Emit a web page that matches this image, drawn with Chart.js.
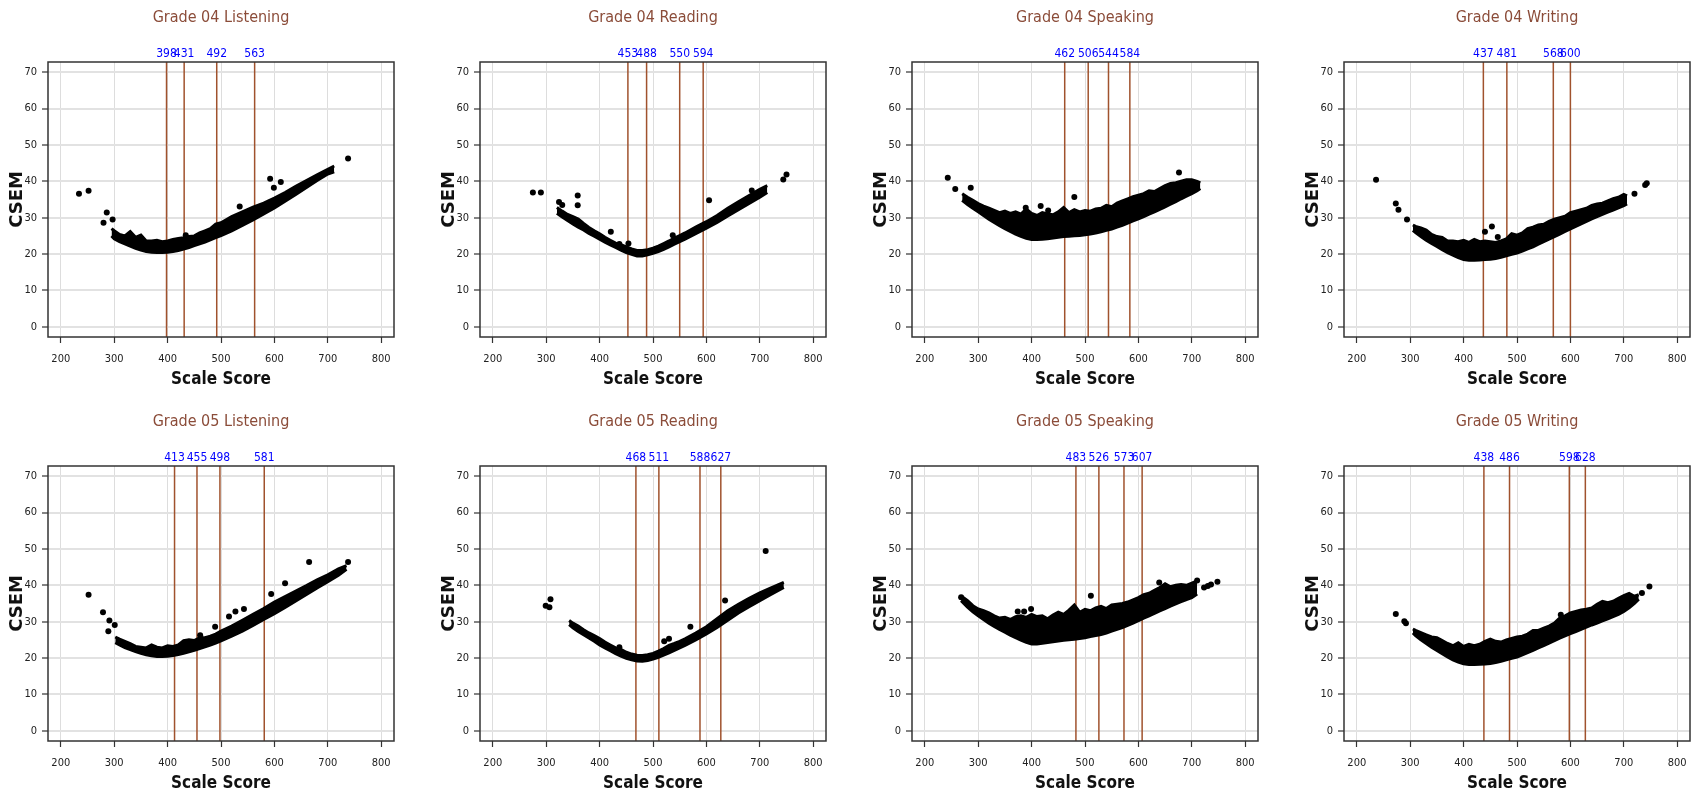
<!DOCTYPE html>
<html>
<head>
<meta charset="utf-8">
<title>CSEM by Scale Score</title>
<script src="https://cdn.jsdelivr.net/npm/chart.js@4.4.1/dist/chart.umd.min.js"></script>
<style>
  html, body { margin: 0; padding: 0; background: #fff; overflow: hidden; }
  #wrap { position: relative; width: 1697px; height: 801px; }
  #wrap canvas { position: absolute; }
</style>
</head>
<body>
<div id="wrap"></div>
<script>
// tick labels shared by every panel
const xTicks = [200, 300, 400, 500, 600, 700, 800];
const yTicks = [0, 10, 20, 30, 40, 50, 60, 70];

// ── Grade 04 Listening ──
const g4LisX  = [295, 300, 310, 320, 330, 340, 350, 360, 370, 380, 390, 400, 410, 420, 430, 440, 450, 460, 470, 480, 490, 500, 520, 540, 560, 580, 600, 620, 640, 660, 680, 700, 712];
const g4LisLo = [25.0, 24.2, 23.4, 22.8, 22.2, 21.6, 21.1, 20.7, 20.5, 20.4, 20.4, 20.5, 20.7, 21.0, 21.4, 21.8, 22.3, 22.8, 23.3, 23.9, 24.5, 25.1, 26.4, 27.9, 29.4, 31.0, 32.7, 34.5, 36.4, 38.3, 40.2, 42.0, 42.6];
const g4LisHi = [27.0, 26.4, 25.4, 25.0, 26.2, 24.6, 25.2, 23.6, 23.6, 23.8, 23.4, 23.6, 24.0, 24.3, 24.5, 24.8, 25.0, 25.8, 26.4, 27.0, 28.2, 28.6, 30.3, 31.6, 32.9, 34.0, 35.4, 36.9, 38.6, 40.2, 41.8, 43.3, 44.2];
const g4LisOut = [[234, 36.6], [252, 37.4], [280, 28.6], [286, 31.4], [297, 29.5], [434, 25.2], [535, 33.1], [592, 40.7], [599, 38.2], [612, 39.8], [738, 46.3]];
const g4LisCuts = [398, 431, 492, 563];

// ── Grade 04 Reading ──
const g4ReaX  = [320, 330, 340, 350, 360, 370, 380, 390, 400, 410, 420, 430, 440, 450, 460, 470, 480, 490, 500, 510, 520, 530, 540, 550, 560, 580, 600, 620, 640, 660, 680, 700, 714];
const g4ReaLo = [31.2, 30.2, 29.2, 28.3, 27.4, 26.6, 25.7, 24.9, 24.1, 23.3, 22.5, 21.8, 21.1, 20.4, 19.9, 19.5, 19.5, 19.8, 20.2, 20.7, 21.3, 22.0, 22.7, 23.4, 24.1, 25.6, 27.1, 28.7, 30.5, 32.2, 33.9, 35.6, 36.9];
const g4ReaHi = [32.8, 31.8, 30.9, 30.3, 29.6, 28.4, 27.3, 26.4, 25.6, 24.6, 23.8, 23.0, 22.6, 22.0, 21.4, 21.0, 21.0, 21.2, 21.6, 22.2, 22.9, 23.6, 24.4, 25.1, 25.8, 27.4, 28.9, 30.6, 32.6, 34.4, 36.1, 37.8, 38.8];
const g4ReaOut = [[275, 36.9], [290, 36.9], [324, 34.3], [330, 33.5], [359, 36.1], [359, 33.4], [421, 26.1], [437, 22.8], [454, 22.9], [537, 25.2], [605, 34.8], [685, 37.5], [744, 40.5], [750, 41.9]];
const g4ReaCuts = [453, 488, 550, 594];

// ── Grade 04 Speaking ──
const g4SpkX  = [270, 280, 290, 300, 310, 320, 330, 340, 350, 360, 370, 380, 390, 400, 410, 420, 430, 440, 450, 460, 470, 480, 490, 500, 510, 520, 530, 540, 550, 560, 570, 580, 590, 600, 610, 620, 630, 640, 650, 660, 670, 680, 690, 700, 710, 716];
const g4SpkLo = [34.8, 33.6, 32.6, 31.6, 30.6, 29.6, 28.7, 27.8, 27.0, 26.2, 25.5, 24.9, 24.3, 24.0, 24.0, 24.1, 24.2, 24.4, 24.6, 24.8, 24.9, 25.0, 25.1, 25.3, 25.5, 25.8, 26.1, 26.5, 26.9, 27.4, 27.9, 28.5, 29.1, 29.7, 30.3, 31.0, 31.6, 32.3, 33.0, 33.7, 34.4, 35.2, 35.9, 36.6, 37.4, 38.0];
const g4SpkHi = [36.6, 35.6, 34.8, 33.9, 33.2, 32.6, 32.0, 31.4, 31.8, 31.2, 31.6, 31.0, 32.4, 31.2, 30.6, 31.4, 31.0, 30.8, 31.6, 32.8, 31.4, 32.2, 31.6, 32.0, 31.8, 32.4, 32.6, 33.4, 33.0, 34.0, 34.6, 35.2, 35.8, 36.2, 36.6, 37.4, 37.2, 38.0, 38.8, 39.4, 39.6, 40.0, 40.4, 40.4, 40.0, 39.6];
const g4SpkOut = [[243, 41.0], [257, 37.9], [286, 38.2], [389, 32.7], [417, 33.2], [431, 32.0], [480, 35.7], [676, 42.4]];
const g4SpkCuts = [462, 506, 544, 584];

// ── Grade 04 Writing ──
const g4WriX  = [305, 310, 320, 330, 340, 350, 360, 370, 380, 390, 400, 410, 420, 430, 440, 450, 460, 470, 480, 490, 500, 510, 520, 530, 540, 550, 560, 570, 580, 590, 600, 610, 620, 630, 640, 650, 660, 670, 680, 690, 700, 706];
const g4WriLo = [26.5, 25.9, 24.8, 23.8, 22.9, 22.1, 21.2, 20.4, 19.7, 19.0, 18.5, 18.3, 18.3, 18.4, 18.5, 18.6, 18.8, 19.1, 19.5, 19.9, 20.3, 20.8, 21.4, 22.0, 22.7, 23.4, 24.1, 24.8, 25.5, 26.2, 26.9, 27.6, 28.3, 29.0, 29.7, 30.3, 30.9, 31.5, 32.1, 32.7, 33.3, 33.8];
const g4WriHi = [28.0, 27.6, 27.2, 26.6, 25.4, 24.8, 24.6, 23.6, 23.6, 23.4, 23.8, 23.2, 24.0, 23.4, 23.6, 23.4, 23.2, 23.6, 24.2, 25.6, 25.2, 25.8, 27.0, 27.4, 28.0, 28.2, 29.0, 29.6, 30.0, 30.4, 31.4, 31.8, 32.2, 32.6, 33.4, 33.8, 34.0, 34.6, 35.2, 35.6, 36.4, 36.0];
const g4WriOut = [[236, 40.4], [273, 33.9], [278, 32.2], [294, 29.5], [440, 26.1], [453, 27.6], [464, 24.7], [720, 36.6], [740, 39.0], [743, 39.5]];
const g4WriCuts = [437, 481, 568, 600];

// ── Grade 05 Listening ──
const g5LisX  = [302, 310, 320, 330, 340, 350, 360, 370, 380, 390, 400, 410, 420, 430, 440, 450, 460, 470, 480, 490, 500, 520, 540, 560, 580, 600, 620, 640, 660, 680, 700, 720, 735];
const g5LisLo = [24.2, 23.6, 22.9, 22.3, 21.8, 21.3, 20.9, 20.6, 20.4, 20.4, 20.5, 20.7, 21.0, 21.3, 21.7, 22.1, 22.6, 23.1, 23.6, 24.1, 24.7, 26.0, 27.4, 29.0, 30.6, 32.2, 33.9, 35.7, 37.5, 39.3, 41.0, 42.8, 44.4];
const g5LisHi = [25.8, 25.2, 24.6, 24.0, 23.2, 23.0, 22.8, 23.6, 23.0, 22.8, 23.4, 23.2, 23.6, 24.8, 25.0, 24.8, 25.6, 25.6, 26.0, 26.6, 27.4, 28.8, 30.4, 32.0, 33.6, 35.4, 36.9, 38.4, 39.9, 41.5, 42.9, 44.5, 45.4];
const g5LisOut = [[252, 37.4], [279, 32.6], [289, 27.4], [291, 30.3], [301, 29.1], [461, 26.3], [489, 28.6], [515, 31.4], [527, 32.8], [543, 33.5], [594, 37.6], [620, 40.6], [665, 46.4], [738, 46.4]];
const g5LisCuts = [413, 455, 498, 581];

// ── Grade 05 Reading ──
const g5ReaX  = [343, 350, 360, 370, 380, 390, 400, 410, 420, 430, 440, 450, 460, 470, 480, 490, 500, 510, 520, 530, 540, 550, 560, 580, 600, 620, 640, 660, 680, 700, 720, 745];
const g5ReaLo = [29.2, 28.3, 27.3, 26.4, 25.5, 24.6, 23.6, 22.8, 22.0, 21.2, 20.5, 19.9, 19.5, 19.2, 19.1, 19.3, 19.7, 20.2, 20.8, 21.4, 22.1, 22.8, 23.5, 25.0, 26.6, 28.4, 30.4, 32.4, 34.1, 35.8, 37.4, 39.4];
const g5ReaHi = [30.3, 29.6, 28.8, 27.8, 26.9, 26.2, 25.4, 24.4, 23.6, 22.8, 22.4, 21.6, 21.1, 20.8, 20.7, 20.9, 21.3, 21.9, 22.6, 23.5, 24.0, 24.6, 25.3, 26.9, 28.6, 30.8, 33.0, 34.8, 36.4, 37.9, 39.2, 40.8];
const g5ReaOut = [[299, 34.4], [306, 34.0], [308, 36.2], [437, 23.0], [521, 24.6], [530, 25.3], [570, 28.6], [635, 35.8], [711, 49.4]];
const g5ReaCuts = [468, 511, 588, 627];

// ── Grade 05 Speaking ──
const g5SpkX  = [268, 280, 290, 300, 310, 320, 330, 340, 350, 360, 370, 380, 390, 400, 410, 420, 430, 440, 450, 460, 470, 480, 490, 500, 510, 520, 530, 540, 550, 560, 570, 580, 590, 600, 610, 620, 630, 640, 650, 660, 670, 680, 690, 700, 710];
const g5SpkLo = [35.8, 34.0, 32.7, 31.6, 30.6, 29.6, 28.7, 27.9, 27.1, 26.3, 25.6, 24.9, 24.3, 23.9, 23.9, 24.1, 24.3, 24.5, 24.7, 24.9, 25.0, 25.2, 25.4, 25.6, 25.9, 26.2, 26.5, 26.9, 27.4, 27.9, 28.4, 29.0, 29.6, 30.3, 31.0, 31.6, 32.3, 33.0, 33.6, 34.3, 34.9, 35.5, 36.1, 36.6, 37.6];
const g5SpkHi = [37.1, 35.8, 34.4, 33.5, 33.0, 32.4, 31.6, 31.0, 31.2, 30.6, 31.4, 31.6, 31.2, 32.0, 31.4, 31.6, 30.8, 31.8, 32.6, 32.0, 33.2, 34.6, 32.6, 33.4, 33.0, 33.8, 34.2, 33.6, 34.6, 34.8, 35.0, 35.4, 36.0, 36.6, 37.4, 37.8, 38.6, 39.4, 40.4, 39.6, 40.0, 40.2, 40.0, 40.6, 41.2];
const g5SpkOut = [[268, 36.7], [374, 32.8], [386, 32.8], [399, 33.5], [511, 37.1], [639, 40.8], [710, 41.3], [723, 39.4], [730, 39.8], [736, 40.2], [748, 41.0]];
const g5SpkCuts = [483, 526, 573, 607];

// ── Grade 05 Writing ──
const g5WriX  = [305, 310, 320, 330, 340, 350, 360, 370, 380, 390, 400, 410, 420, 430, 440, 450, 460, 470, 480, 490, 500, 510, 520, 530, 540, 550, 560, 570, 580, 590, 600, 610, 620, 630, 640, 650, 660, 670, 680, 690, 700, 710, 720, 728];
const g5WriLo = [26.9, 26.2, 25.0, 24.0, 23.0, 22.1, 21.2, 20.3, 19.5, 18.9, 18.4, 18.2, 18.2, 18.3, 18.4, 18.5, 18.8, 19.1, 19.5, 19.9, 20.3, 20.9, 21.5, 22.1, 22.8, 23.4, 24.1, 24.8, 25.5, 26.1, 26.7, 27.3, 27.9, 28.5, 29.1, 29.6, 30.2, 30.8, 31.4, 32.0, 32.8, 33.8, 35.0, 36.2];
const g5WriHi = [28.0, 27.6, 27.0, 26.4, 25.8, 25.6, 24.8, 24.0, 23.4, 24.2, 23.2, 23.8, 23.4, 23.8, 24.6, 25.2, 24.6, 24.4, 25.0, 25.4, 25.8, 26.0, 26.6, 27.6, 27.6, 28.2, 28.8, 29.6, 31.0, 31.6, 32.4, 32.8, 33.2, 33.4, 33.8, 34.8, 35.6, 35.2, 35.6, 36.4, 37.2, 37.8, 37.0, 37.4];
const g5WriOut = [[273, 32.1], [289, 30.1], [292, 29.6], [582, 31.9], [734, 37.9], [748, 39.7]];
const g5WriCuts = [438, 486, 598, 628];

// panel list (built from the arrays above)
const panels = [
    { title: 'Grade 04 Listening', bx: g4LisX, lo: g4LisLo, hi: g4LisHi, out: g4LisOut, cuts: g4LisCuts },
    { title: 'Grade 04 Reading',   bx: g4ReaX, lo: g4ReaLo, hi: g4ReaHi, out: g4ReaOut, cuts: g4ReaCuts },
    { title: 'Grade 04 Speaking',  bx: g4SpkX, lo: g4SpkLo, hi: g4SpkHi, out: g4SpkOut, cuts: g4SpkCuts },
    { title: 'Grade 04 Writing',   bx: g4WriX, lo: g4WriLo, hi: g4WriHi, out: g4WriOut, cuts: g4WriCuts },
    { title: 'Grade 05 Listening', bx: g5LisX, lo: g5LisLo, hi: g5LisHi, out: g5LisOut, cuts: g5LisCuts },
    { title: 'Grade 05 Reading',   bx: g5ReaX, lo: g5ReaLo, hi: g5ReaHi, out: g5ReaOut, cuts: g5ReaCuts },
    { title: 'Grade 05 Speaking',  bx: g5SpkX, lo: g5SpkLo, hi: g5SpkHi, out: g5SpkOut, cuts: g5SpkCuts },
    { title: 'Grade 05 Writing',   bx: g5WriX, lo: g5WriLo, hi: g5WriHi, out: g5WriOut, cuts: g5WriCuts }
];

// axis limits (R style: 4% padding around 200-800 and 0-70)
const X_MIN = 176, X_MAX = 824;
const Y_MIN = -2.8, Y_MAX = 72.8;

const NARROW = '"Liberation Sans Narrow", "DejaVu Sans Condensed", "Liberation Sans", sans-serif';

// draws the closed box around the plot area
const boxPlugin = {
    id: 'plotBox',
    afterDatasetsDraw(chart) {
        const a = chart.chartArea;
        const ctx = chart.ctx;
        ctx.save();
        ctx.strokeStyle = '#333333';
        ctx.lineWidth = 1.5;
        ctx.strokeRect(a.left, a.top, a.right - a.left, a.bottom - a.top);
        ctx.restore();
    }
};

// blue cut score labels above the plot box
const cutLabelPlugin = {
    id: 'cutLabels',
    afterDraw(chart, args, opts) {
        const ctx = chart.ctx;
        const xs = chart.scales.x;
        ctx.save();
        ctx.fillStyle = '#0000FF';
        ctx.font = '12px ' + NARROW;
        ctx.textAlign = 'center';
        ctx.textBaseline = 'bottom';
        (opts.values || []).forEach(v => {
            ctx.fillText(String(v), xs.getPixelForValue(v), chart.chartArea.top - 2);
        });
        ctx.restore();
    }
};

const wrap = document.getElementById('wrap');

panels.forEach((p, i) => {
    const col = i % 4;
    const row = Math.floor(i / 4);

    const canvas = document.createElement('canvas');
    canvas.width = 432;
    canvas.height = 400;
    canvas.style.width = '432px';
    canvas.style.height = '400px';
    canvas.style.left = (col * 432) + 'px';
    canvas.style.top = (row * 404) + 'px';
    wrap.appendChild(canvas);

    // band of dense points: lower edge + upper edge filled between
    const loPts = p.bx.map((x, k) => ({ x: x, y: p.lo[k] }));
    const hiPts = p.bx.map((x, k) => ({ x: x, y: p.hi[k] }));

    const datasets = [
        {
            type: 'line', data: loPts, borderColor: '#000', borderWidth: 3,
            pointRadius: 0, fill: false
        },
        {
            type: 'line', data: hiPts, borderColor: '#000', borderWidth: 3,
            pointRadius: 0, fill: '-1', backgroundColor: '#000'
        },
        {
            type: 'scatter', data: p.out.map(d => ({ x: d[0], y: d[1] })),
            pointStyle: 'circle', pointRadius: 3, backgroundColor: '#000',
            borderWidth: 0
        }
    ];

    // vertical cut score lines
    p.cuts.forEach(c => {
        datasets.push({
            type: 'line', data: [{ x: c, y: Y_MIN }, { x: c, y: Y_MAX }],
            borderColor: '#A0522D', borderWidth: 1.5, pointRadius: 0, fill: false
        });
    });

    new Chart(canvas, {
        type: 'scatter',
        data: { datasets: datasets },
        options: {
            responsive: false,
            animation: false,
            layout: { padding: { left: 0, right: 38, top: 0, bottom: 0 } },
            plugins: {
                legend: { display: false },
                tooltip: { enabled: false },
                title: {
                    display: true,
                    text: p.title,
                    fullSize: false,
                    color: '#8B4C39',
                    font: { family: NARROW, size: 16, weight: 'normal', lineHeight: 1.2 },
                    padding: { top: 8, bottom: 34.8 }
                },
                cutLabels: { values: p.cuts }
            },
            scales: {
                x: {
                    type: 'linear',
                    min: X_MIN,
                    max: X_MAX,
                    afterBuildTicks: axis => { axis.ticks = xTicks.map(v => ({ value: v })); },
                    afterFit: axis => { axis.height = 63; },
                    ticks: {
                        color: '#222',
                        font: { family: NARROW, size: 11 },
                        padding: 10,
                        maxRotation: 0,
                        autoSkip: false
                    },
                    grid: { color: '#DDDDDD', lineWidth: 1, tickColor: '#333', tickLength: 6, tickWidth: 1.2 },
                    border: { display: false },
                    title: {
                        display: true,
                        text: 'Scale Score',
                        color: '#111',
                        font: { family: NARROW, size: 17, weight: 'bold', lineHeight: 1.2 },
                        padding: { top: 0, bottom: 10 }
                    }
                },
                y: {
                    type: 'linear',
                    min: Y_MIN,
                    max: Y_MAX,
                    afterBuildTicks: axis => { axis.ticks = yTicks.map(v => ({ value: v })); },
                    afterFit: axis => { axis.width = 48; },
                    ticks: {
                        color: '#222',
                        font: { family: NARROW, size: 11 },
                        padding: 5,
                        autoSkip: false
                    },
                    grid: { color: '#E2E2E2', lineWidth: 2, tickColor: '#333', tickLength: 6, tickWidth: 1.2 },
                    border: { display: false },
                    title: {
                        display: true,
                        text: 'CSEM',
                        color: '#111',
                        font: { family: '"DejaVu Sans", "Liberation Sans", sans-serif', size: 18, weight: 'bold', lineHeight: 1.2 },
                        padding: { top: 7, bottom: 0 }
                    }
                }
            }
        },
        plugins: [boxPlugin, cutLabelPlugin]
    });
});
</script>
</body>
</html>
